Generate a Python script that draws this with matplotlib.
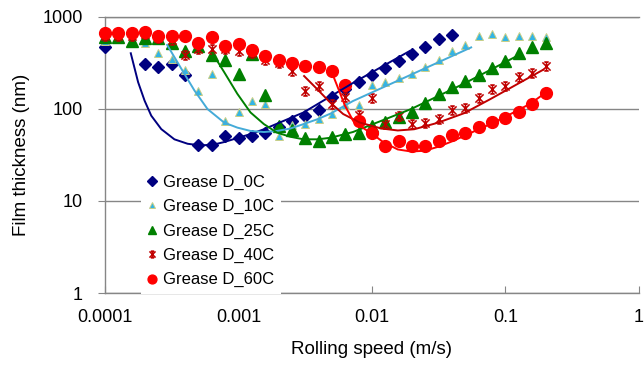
"""
Grease D film thickness vs rolling speed (log-log), 0C ~ 60C
"""

import matplotlib
matplotlib.use("Agg")
import matplotlib.pyplot as plt
from matplotlib.path import Path
from matplotlib.ticker import FixedLocator, FuncFormatter, NullLocator

plt.rcParams['font.family'] = ['Liberation Sans', 'DejaVu Sans']

# ── 측정 데이터 (rolling speed m/s, film thickness nm) ──
speed_0c = [0.0001, 0.0002, 0.000251, 0.000316, 0.000398, 0.000501, 0.000631, 0.000794,
            0.001, 0.00126, 0.00158, 0.002, 0.00251, 0.00316, 0.00398, 0.00501, 0.00631,
            0.00794, 0.01, 0.0126, 0.0158, 0.02, 0.0251, 0.0316, 0.0398]
film_0c = [465, 302, 284, 307, 231, 40, 40, 51, 48, 50, 55, 63, 74, 84, 97, 133, 165,
           195, 231, 277, 328, 392, 472, 569, 623]

speed_10c = [0.0001, 0.0002, 0.000251, 0.000316, 0.000398, 0.000501, 0.000631, 0.000794,
             0.001, 0.00126, 0.00158, 0.002, 0.00251, 0.00316, 0.00398, 0.00501, 0.00631,
             0.00794, 0.01, 0.0126, 0.0158, 0.02, 0.0251, 0.0316, 0.0398, 0.0501, 0.0631,
             0.0794, 0.1, 0.126, 0.158, 0.2]
film_10c = [545, 514, 402, 350, 262, 156, 236, 73, 91, 121, 111, 50, 67, 68, 77, 87, 109,
            109, 181, 193, 214, 236, 282, 337, 420, 489, 608, 650, 603, 614, 618, 600]

speed_all = [0.0001, 0.000126, 0.000158, 0.0002, 0.000251, 0.000316, 0.000398, 0.000501,
             0.000631, 0.000794, 0.001, 0.00126, 0.00158, 0.002, 0.00251, 0.00316, 0.00398,
             0.00501, 0.00631, 0.00794, 0.01, 0.0126, 0.0158, 0.02, 0.0251, 0.0316, 0.0398,
             0.0501, 0.0631, 0.0794, 0.1, 0.126, 0.158, 0.2]
film_25c = [600, 603, 545, 578, 580, 518, 418, 480, 379, 337, 235, 390, 140, 65, 59, 48, 45,
            49, 53, 55, 65, 71, 82, 93, 116, 144, 171, 198, 232, 279, 326, 402, 468, 518]
film_40c = [620, 620, 620, 640, 580, 560, 382, 445, 449, 440, 425, 400, 337, 310, 258, 155,
            177, 111, 135, 85, 130, 68, 84, 68, 70, 77, 97, 101, 132, 165, 177, 223, 245, 287]
film_60c = [656, 656, 656, 676, 608, 621, 614, 521, 595, 474, 502, 438, 375, 337, 312, 290,
            282, 256, 181, 74, 55, 39.7, 44.5, 38.9, 39.5, 44.5, 51.8, 54.5, 63.4, 72, 80, 93,
            111, 147]

# ── 추세선 ──
fit_speed_0c = [1.56e-4, 1.77e-4, 1.98e-4, 2.22e-4, 2.64e-4, 3.31e-4, 4.16e-4, 5.23e-4,
                6.57e-4, 7.8e-4, 9.8e-4, 1.23e-3, 1.55e-3, 3.07e-3, 7.2e-3, 0.0192]
fit_film_0c = [399, 194, 122, 84, 60, 46.5, 41.6, 39.9, 40.9, 43.4, 48, 53, 59.8, 91, 190, 423]

fit_speed_10c = [2.92e-4, 3.72e-4, 4.67e-4, 5.86e-4, 7.8e-4, 9.8e-4, 1.23e-3, 1.55e-3,
                 1.94e-3, 2.44e-3, 3.07e-3, 3.92e-3, 4.92e-3, 7.2e-3, 0.0553]
fit_film_10c = [492, 273, 158, 99, 70.7, 62.3, 57.3, 55.8, 57.3, 60.8, 68, 77, 88.8, 121, 462]

fit_speed_25c = [6.38e-4, 7.8e-4, 9.8e-4, 1.23e-3, 1.55e-3, 1.94e-3, 2.44e-3, 3.07e-3,
                 3.92e-3, 4.92e-3, 7.2e-3, 0.0196, 0.0489, 0.122]
fit_film_25c = [399, 250, 145, 91, 68, 55, 49.6, 46.5, 46.5, 48.4, 55.8, 99, 187, 373]

fit_speed_40c = [3.1e-3, 3.85e-3, 4.85e-3, 6.08e-3, 8.1e-3, 0.0117, 0.0156, 0.0207, 0.031,
                 0.0489, 0.077, 0.122, 0.192]
fit_film_40c = [226, 165, 117, 87.5, 70.7, 61, 58, 59.8, 70.2, 89.2, 127, 184, 265]

fit_speed_60c = [5.13e-3, 5.59e-3, 6.27e-3, 7.22e-3, 8.57e-3, 0.0102, 0.0121, 0.0156, 0.0196,
                 0.0246, 0.031, 0.0389, 0.0489, 0.0614, 0.077, 0.0968, 0.122, 0.153, 0.192]
fit_film_60c = [226, 165, 108, 73.8, 61.8, 52.5, 43.4, 36.1, 34.3, 34.9, 38.4, 43.6, 50.5,
                58.8, 68, 80, 95, 113, 143]

labels = ["Grease D_0C", "Grease D_10C", "Grease D_25C", "Grease D_40C", "Grease D_60C"]
x_ticks = [0.0001, 0.001, 0.01, 0.1, 1]
y_ticks = [1, 10, 100, 1000]

# Excel 스타일 별표 마커
star = Path(
    [(-1, -1), (1, 1), (-1, 1), (1, -1), (0, -1.1), (0, 1.1),
     (-0.55, 1.1), (0.55, 1.1), (-0.55, -1.1), (0.55, -1.1)],
    [Path.MOVETO, Path.LINETO] * 5,
)

fig = plt.figure(figsize=(6.44, 3.65), dpi=100)
ax = fig.add_axes([105 / 644, 72 / 365, 534 / 644, 276.5 / 365])

ax.plot(speed_0c, film_0c, ls="none", marker="D", ms=6.5, color="#000080",
        label=labels[0], zorder=3, clip_on=False)
ax.plot(speed_10c, film_10c, ls="none", marker="^", ms=5.5, mfc="#33B5E5", mec="#C9CF86",
        mew=0.7, label=labels[1], zorder=3, clip_on=False)
ax.plot(speed_all, film_25c, ls="none", marker="^", ms=8.5, color="#008000",
        label=labels[2], zorder=3, clip_on=False)
ax.plot(speed_all, film_40c, ls="none", marker=star, ms=6.5, mfc="none", mec="#C00000",
        mew=1.1, label=labels[3], zorder=3, clip_on=False)
ax.plot(speed_all, film_60c, ls="none", marker="o", ms=8.5, color="#FF0000",
        label=labels[4], zorder=3, clip_on=False)

# 추세선은 마커 위에
ax.plot(fit_speed_0c, fit_film_0c, color="#000080", lw=1.4, zorder=4)
ax.plot(fit_speed_10c, fit_film_10c, color="#45ABD8", lw=1.4, zorder=4)
ax.plot(fit_speed_25c, fit_film_25c, color="#008000", lw=1.4, zorder=4)
ax.plot(fit_speed_40c, fit_film_40c, color="#C00000", lw=1.4, zorder=4)
ax.plot(fit_speed_60c, fit_film_60c, color="#FF0000", lw=1.4, zorder=4)

ax.set_xscale("log")
ax.set_yscale("log")
ax.set_xlim(0.0001, 1)
ax.set_ylim(1, 1000)

fmt = FuncFormatter(lambda v, _: f"{v:g}")
ax.xaxis.set_major_locator(FixedLocator(x_ticks))
ax.yaxis.set_major_locator(FixedLocator(y_ticks))
ax.xaxis.set_major_formatter(fmt)
ax.yaxis.set_major_formatter(fmt)
ax.xaxis.set_minor_locator(NullLocator())
ax.yaxis.set_minor_locator(NullLocator())

ax.tick_params(axis="x", direction="in", length=5, color="#868686", labelsize=13, pad=11.5)
ax.tick_params(axis="y", direction="out", length=5, color="#868686", labelsize=13, pad=11)

ax.yaxis.grid(True, color="#868686", lw=1.0)
ax.set_axisbelow(True)
for side in ["left", "bottom", "top"]:
    ax.spines[side].set_color("#868686")
    ax.spines[side].set_linewidth(1.0)
ax.spines["right"].set_visible(False)

ax.set_xlabel("Rolling speed (m/s)", fontsize=13.5, labelpad=11)
ax.set_ylabel("Film thickness (nm)", fontsize=13.5, labelpad=9)

leg = ax.legend(loc="upper left", bbox_to_anchor=(0.051, 0.483), fontsize=12,
                handlelength=0.6, handletextpad=0.35, labelspacing=0.56, markerscale=0.75,
                borderpad=0.4, frameon=True, fancybox=False, framealpha=1)
leg.get_frame().set_edgecolor("none")
leg.get_frame().set_facecolor("white")
leg.set_zorder(5)

plt.savefig("out.png", dpi=100)
plt.close()
